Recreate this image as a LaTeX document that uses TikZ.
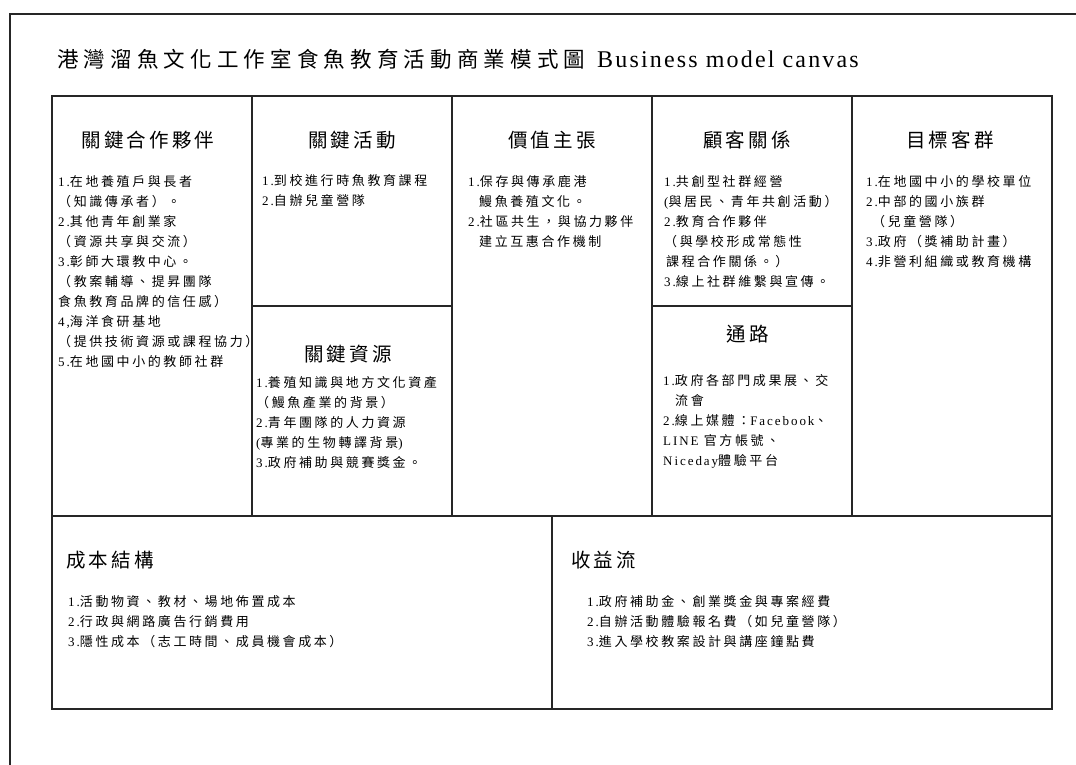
\documentclass[tikz,border=0pt]{standalone}
\usepackage{fontspec}
\setmainfont{Liberation Serif}
\newfontfamily\cjkT{Noto Sans CJK TC}[LetterSpace=24]
\newfontfamily\latT{Liberation Serif}[LetterSpace=9]
\newfontfamily\cjkH{Noto Sans CJK TC}[LetterSpace=16]
\newfontfamily\cjkB{Noto Sans CJK TC}[LetterSpace=20]
\newfontfamily\latB{Liberation Serif}[LetterSpace=15]
\newcommand\lb[1]{{\latB #1}}
\tikzset{
  cell/.style={draw=black!85, line width=1.3pt, anchor=north west, inner sep=0pt, outer sep=0pt},
  frameline/.style={draw=black!85, line width=1.3pt},
  head/.style={inner sep=0pt, font=\fontsize{19.5}{24}\selectfont\cjkH},
  body/.style={anchor=north west, align=left, inner sep=0pt, font=\fontsize{13}{20}\selectfont\cjkB, execute at begin node={\rule{0pt}{13pt}}},
}
\begin{document}
\begin{tikzpicture}[x=1pt,y=-1pt]
\useasboundingbox (0,0) rectangle (1076,765);
% outer frame (top and left edges visible)
\coordinate (fr1) at (1076,14);
\coordinate (fr2) at (10,14);
\coordinate (fr3) at (10,765);
\draw[frameline] (fr1) -- (fr2) -- (fr3);
% title
\node[anchor=base west, inner sep=0pt] (title) at (57,68)
  {\fontsize{21.5}{24}\selectfont\cjkT 港灣溜魚文化工作室食魚教育活動商業模式圖\hspace{12pt}{\fontsize{24}{26}\selectfont\latT Business model canvas}};
% cells
\node[cell, minimum width=200pt, minimum height=420pt] (kp) at (52,96) {};
\node[cell, minimum width=200pt, minimum height=210pt] (ka) at (252,96) {};
\node[cell, minimum width=200pt, minimum height=210pt] (kr) at (252,306) {};
\node[cell, minimum width=200pt, minimum height=420pt] (vp) at (452,96) {};
\node[cell, minimum width=200pt, minimum height=210pt] (cr) at (652,96) {};
\node[cell, minimum width=200pt, minimum height=210pt] (ch) at (652,306) {};
\node[cell, minimum width=200pt, minimum height=420pt] (cs) at (852,96) {};
\node[cell, minimum width=500pt, minimum height=193pt] (cost) at (52,516) {};
\node[cell, minimum width=500pt, minimum height=193pt] (rev) at (552,516) {};
% headings
\node[head] (kph) at (148,140) {關鍵合作夥伴};
\node[head] (kah) at (352,140) {關鍵活動};
\node[head] (krh) at (348,354) {關鍵資源};
\node[head] (vph) at (552,140) {價值主張};
\node[head] (crh) at (747,140) {顧客關係};
\node[head] (chh) at (748,334) {通路};
\node[head] (csh) at (950,140) {目標客群};
\node[head, anchor=west] (costh) at (66,560) {成本結構};
\node[head, anchor=west] (revh) at (571,560) {收益流};
% bodies
\node[body] (kpb) at (58,175) {\lb{1.}在地養殖戶與長者\\（知識傳承者）。\\\lb{2.}其他青年創業家\\（資源共享與交流）\\\lb{3.}彰師大環教中心。\\（教案輔導、提昇團隊\\食魚教育品牌的信任感）\\\lb{4,}海洋食研基地\\（提供技術資源或課程協力）\\\lb{5.}在地國中小的教師社群};
\node[body] (kab) at (262,174) {\lb{1.}到校進行時魚教育課程\\\lb{2.}自辦兒童營隊};
\node[body] (krb) at (256,376) {\lb{1.}養殖知識與地方文化資產\\（鰻魚產業的背景）\\\lb{2.}青年團隊的人力資源\\\lb{(}專業的生物轉譯背景\lb{)}\\\lb{3.}政府補助與競賽獎金。};
\node[body] (vpb) at (468,175) {\lb{1.}保存與傳承鹿港\\\hspace*{11pt}鰻魚養殖文化。\\\lb{2.}社區共生，與協力夥伴\\\hspace*{11pt}建立互惠合作機制};
\node[body] (crb) at (664,175) {\lb{1.}共創型社群經營\\\lb{(}與居民、青年共創活動）\\\lb{2.}教育合作夥伴\\（與學校形成常態性\\\hspace*{2pt}課程合作關係。）\\\lb{3.}線上社群維繫與宣傳。};
\node[body] (chb) at (663,374) {\lb{1.}政府各部門成果展、交\\\hspace*{12pt}流會\\\lb{2.}線上媒體：\lb{Facebook}、\\\lb{LINE }官方帳號、\\\lb{Niceday}體驗平台};
\node[body] (csb) at (866,175) {\lb{1.}在地國中小的學校單位\\\lb{2.}中部的國小族群\\\hspace*{6pt}（兒童營隊）\\\lb{3.}政府（獎補助計畫）\\\lb{4.}非營利組織或教育機構};
\node[body] (costb) at (68,595) {\lb{1.}活動物資、教材、場地佈置成本\\\lb{2.}行政與網路廣告行銷費用\\\lb{3.}隱性成本（志工時間、成員機會成本）};
\node[body] (revb) at (587,595) {\lb{1.}政府補助金、創業獎金與專案經費\\\lb{2.}自辦活動體驗報名費（如兒童營隊）\\\lb{3.}進入學校教案設計與講座鐘點費};
\end{tikzpicture}
\end{document}
